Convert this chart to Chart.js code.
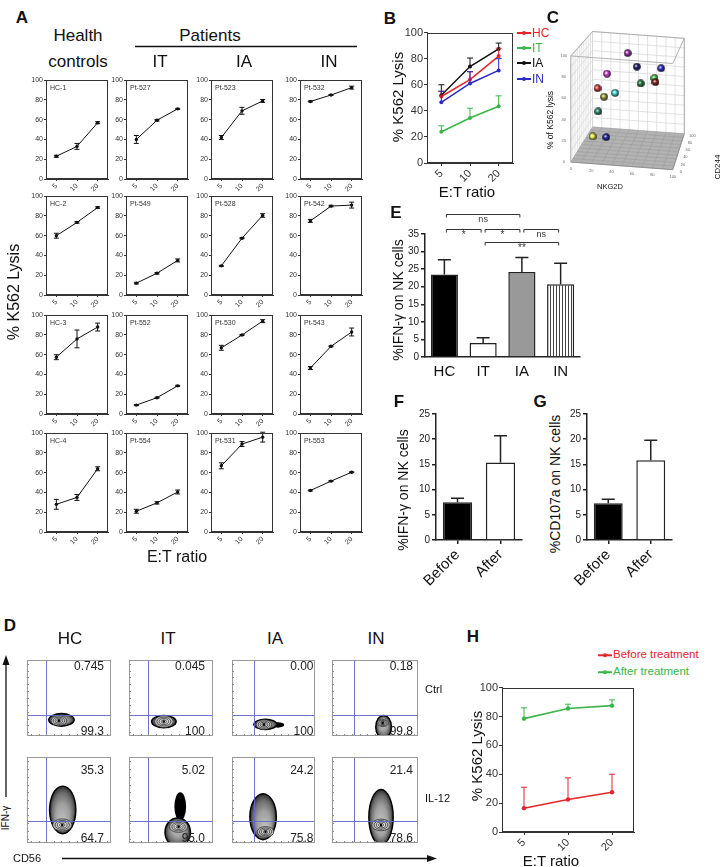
<!DOCTYPE html>
<html>
<head>
<meta charset="utf-8">
<script src="https://cdn.jsdelivr.net/npm/chart.js@4.4.1/dist/chart.umd.min.js"></script>
<style>
  body { margin: 0; background: #fff; }
  #page { position: relative; width: 724px; height: 867px; overflow: hidden;
          font-family: "Liberation Sans", Arial, sans-serif; color: #111; }
  #page canvas { position: absolute; }
  .t { position: absolute; white-space: nowrap; line-height: 1; transform: translate(-50%, -50%); }
  .lg { position: absolute; display: flex; align-items: center; white-space: nowrap; line-height: 1; transform: translateY(-50%); }
  .lg .ln { position: relative; height: 1.5px; margin-right: 1px; }
  .lg .ln i { position: absolute; left: 50%; top: 50%; width: 4px; height: 4px; border-radius: 50%;
              transform: translate(-50%, -50%); background: inherit; }
  svg { position: absolute; left: 0; top: 0; }
</style>
</head>
<body>
<div id="page"></div>
<script>
// ---------- data ----------

// A: % K562 lysis per donor at E:T 5, 10, 20 (mean, sem)
const etRatios = ["5", "10", "20"];
const donorIds = ["HC-1", "Pt-527", "Pt-523", "Pt-532",
                  "HC-2", "Pt-549", "Pt-528", "Pt-542",
                  "HC-3", "Pt-552", "Pt-530", "Pt-543",
                  "HC-4", "Pt-554", "Pt-531", "Pt-553"];
const donorLysis = [
  [23, 33, 57], [40, 59.5, 71], [42, 69, 79], [78.5, 85, 92.5],
  [60, 73.5, 88.5], [12, 22, 35], [29.5, 57.5, 80.5], [75, 90, 91],
  [57.5, 76, 88], [9, 16.5, 28.5], [67, 80, 94], [46.5, 68.5, 83],
  [28, 35, 64], [21, 29.5, 40.5], [67, 89, 96], [42, 51.5, 60.5]
];
const donorSem = [
  [1, 3, 1], [4, 0.8, 0.5], [2, 3.5, 1.5], [0.5, 0.5, 1.5],
  [2.5, 0.8, 0.8], [0.8, 0.8, 1.5], [0.5, 0.5, 1.8], [1.5, 0.8, 3],
  [2.5, 9, 4], [0.5, 0.5, 0.5], [2.5, 0.5, 1.5], [1.5, 0.5, 4],
  [5, 3, 2], [2, 1.2, 2], [3, 2.5, 5], [0.5, 0.5, 0.5]
];

// B: group means
const groupNames = ["HC", "IT", "IA", "IN"];
const groupLysis = [[51, 64, 82], [24, 34.5, 43.5], [52, 74, 87.5], [46.5, 61, 71]];
const groupSem = [[4, 6, 6], [4.5, 7.5, 8], [8, 6.5, 4.5], [8.5, 9, 9]];

// C: each patient as (NKG2D, CD244, % lysis)
const nkg2dVals = [47.5, 57, 82.1, 26.1, 75.2, 60.9, 76.2, 16.4, 34.6, 23.2, 17.1, 11.4, 25.4];
const cd244Vals = [50, 50, 50, 50, 50, 50, 50, 50, 50, 50, 50, 50, 50];
const lysisVals = [94.1, 81.3, 81.5, 72.2, 71.3, 64.9, 67.3, 57, 53.7, 49.1, 34, 8.8, 9.1];
const pointColors = ["#9b2fae", "#1d1d70", "#2a2ad0", "#e040e8", "#40d040", "#1f7a3a", "#8b1a1a",
                     "#e03030", "#40e0e0", "#a0a030", "#1f8a6a", "#f0f040", "#2020b0"];

// E: % IFN-γ+ NK cells per group
const ifnGroup = [23.5, 4, 24.2, 20.7];
const ifnGroupSem = [4.2, 1.5, 4.1, 6];
const sigPairs = [[0, 2], [0, 1], [1, 2], [2, 3], [1, 3]];
const sigLabels = ["ns", "*", "*", "ns", "**"];
const sigLevels = [40.7, 36.4, 36.4, 36.4, 32.7];

// F, G: before / after treatment
const treatLabels = ["Before", "After"];
const ifnTreat = [7.5, 15.4];
const ifnTreatSem = [0.8, 5.3];
const cd107Treat = [7.3, 15.8];
const cd107TreatSem = [0.8, 4.0];

// H: lysis before / after treatment
const beforeLysis = [16.5, 22.5, 27.5];
const beforeSem = [14.5, 15, 12.5];
const afterLysis = [78.5, 85.5, 87.5];
const afterSem = [7.5, 3, 4];

// D: flow plots (CD56 vs IFN-γ, axis in % of scale)
const flowGroups = ["HC", "IT", "IA", "IN"];
const ctrlUpper = ["0.745", "0.045", "0.00", "0.18"];
const ctrlLower = ["99.3", "100", "100", "99.8"];
const il12Upper = ["35.3", "5.02", "24.2", "21.4"];
const il12Lower = ["64.7", "95.0", "75.8", "78.6"];
const gateCD56 = [23, 23, 26, 26];
const gateIFNg = [28, 26];
// NK population: [cd56 low, cd56 high, ifn low, ifn high, cd56 mode, ifn mode]
const ctrlPops = [[25, 57, 12, 30.5, 38, 20], [26, 57, 10, 28, 41.5, 19],
                  [25.5, 55, 7.7, 23, 38.5, 15], [50, 70, -4, 28, 59, 17]];
const il12Pops = [[26, 59, 10, 67, 42, 21], [42, 74, -5, 30, 59, 19],
                  [20.6, 54.3, 3, 58, 40.4, 13], [42, 72, -3, 63, 57, 21]];
// sparse events outside the main contour: [cd56 low, cd56 high, ifn low, ifn high]
const ctrlStreak = [null, null, [48, 63, 11, 18], null];
const il12Streak = [null, [54, 68, 26, 59], null, null];

// ---------- helpers ----------
const page = document.getElementById("page");
const FONT = '"Liberation Sans", Arial, sans-serif';
Chart.defaults.font.family = FONT;
Chart.defaults.color = "#222";
Chart.defaults.animation = false;
Chart.defaults.responsive = false;
Chart.defaults.devicePixelRatio = 1;
Chart.defaults.plugins.legend.display = false;
Chart.defaults.plugins.tooltip.enabled = false;

function T(str, x, y, size, o = {}) {
  const d = document.createElement("div");
  d.className = "t";
  d.textContent = str;
  d.style.left = x + "px";
  d.style.top = y + "px";
  d.style.fontSize = size + "px";
  if (o.bold) d.style.fontWeight = "bold";
  if (o.color) d.style.color = o.color;
  if (o.rot) d.style.transform = "translate(-50%,-50%) rotate(" + o.rot + "deg)";
  if (o.left) d.style.transform = "translate(0,-50%)";
  page.appendChild(d);
}

function legendItem(x, y, color, text, size, lineW) {
  const d = document.createElement("div");
  d.className = "lg";
  d.style.left = x + "px";
  d.style.top = y + "px";
  d.style.fontSize = size + "px";
  d.style.color = color;
  const ln = document.createElement("span");
  ln.className = "ln";
  ln.style.width = lineW + "px";
  ln.style.background = color;
  ln.appendChild(document.createElement("i"));
  d.appendChild(ln);
  d.appendChild(document.createTextNode(text));
  page.appendChild(d);
}

// box = [left, top, right, bottom] of the plot area on the page, m = room around it
function mount(box, m) {
  const c = document.createElement("canvas");
  const w = box[2] - box[0] + m.l + m.r, h = box[3] - box[1] + m.t + m.b;
  c.width = w; c.height = h;
  c.style.left = (box[0] - m.l) + "px";
  c.style.top = (box[1] - m.t) + "px";
  c.style.width = w + "px";
  c.style.height = h + "px";
  page.appendChild(c);
  return c;
}

const errorBars = {
  id: "errorBars",
  afterDatasetsDraw(chart) {
    const ctx = chart.ctx, ys = chart.scales.y;
    chart.data.datasets.forEach((ds, i) => {
      if (!ds.errors) return;
      const meta = chart.getDatasetMeta(i);
      ctx.save();
      ctx.strokeStyle = ds.errorColor || ds.borderColor;
      ctx.lineWidth = ds.errorWidth || 1;
      meta.data.forEach((el, j) => {
        const v = ds.data[j], e = ds.errors[j], cap = ds.errorCap || 2;
        const top = ys.getPixelForValue(v + e);
        const bot = ds.upOnly ? ys.getPixelForValue(v) : ys.getPixelForValue(v - e);
        ctx.beginPath();
        ctx.moveTo(el.x, top); ctx.lineTo(el.x, bot);
        ctx.moveTo(el.x - cap, top); ctx.lineTo(el.x + cap, top);
        if (!ds.upOnly) { ctx.moveTo(el.x - cap, bot); ctx.lineTo(el.x + cap, bot); }
        ctx.stroke();
      });
      ctx.restore();
    });
  }
};

const frameBox = {
  id: "frameBox",
  afterDraw(chart) {
    const { ctx, chartArea: a } = chart;
    ctx.save();
    ctx.strokeStyle = "#333";
    ctx.lineWidth = 1;
    ctx.strokeRect(Math.round(a.left) + 0.5, Math.round(a.top) + 0.5,
                   Math.round(a.width) - 1, Math.round(a.height) - 1);
    ctx.restore();
  }
};

const cornerName = {
  id: "cornerName",
  afterDraw(chart) {
    const { ctx, chartArea: a } = chart;
    ctx.save();
    ctx.font = "7px " + FONT;
    ctx.fillStyle = "#333";
    ctx.textBaseline = "top";
    ctx.fillText(chart.data.datasets[0].label, a.left + 4, a.top + 4);
    ctx.restore();
  }
};

function boxedScales(m, tickSize, tickLen) {
  return {
    x: {
      offset: true,
      grid: { drawOnChartArea: false, offset: false, tickLength: tickLen, color: "#333" },
      border: { color: "#333" },
      ticks: { font: { size: tickSize }, color: "#333", minRotation: 45, maxRotation: 45, padding: 1, autoSkip: false },
      afterFit: s => { s.height = m.b; }
    },
    y: {
      min: 0, max: 100,
      grid: { drawOnChartArea: false, tickLength: tickLen, color: "#333" },
      border: { color: "#333" },
      ticks: { stepSize: 20, font: { size: tickSize }, color: "#333", padding: 1 },
      afterFit: s => { s.width = m.l; }
    }
  };
}

// ---------- panel A ----------
const colX = [46, 126, 211, 300], rowY = [78, 194, 313, 431];
donorIds.forEach((id, i) => {
  const c = colX[i % 4], r = rowY[Math.floor(i / 4)];
  const m = { l: 18, t: 3, r: 3, b: 16 };
  new Chart(mount([c, r, c + 63, r + 101], m), {
    type: "line",
    data: {
      labels: etRatios,
      datasets: [{
        label: id, data: donorLysis[i], errors: donorSem[i], errorCap: 2.5,
        borderColor: "#111", backgroundColor: "#111", borderWidth: 1,
        pointRadius: 1.7, pointBorderWidth: 0
      }]
    },
    options: {
      layout: { padding: { top: m.t, right: m.r, left: 0, bottom: 0 } },
      scales: boxedScales(m, 7, 2)
    },
    plugins: [errorBars, frameBox, cornerName]
  });
});

// ---------- panel B ----------
const groupColors = ["#e3262c", "#3bb54a", "#111111", "#2b2bbf"];
{
  const m = { l: 26, t: 6, r: 4, b: 22 };
  new Chart(mount([427, 31, 513, 163], m), {
    type: "line",
    data: {
      labels: etRatios,
      datasets: groupNames.map((g, i) => ({
        label: g, data: groupLysis[i], errors: groupSem[i], upOnly: true, errorCap: 3,
        borderColor: groupColors[i], backgroundColor: groupColors[i], borderWidth: 1.5,
        pointRadius: 2, pointBorderWidth: 0
      }))
    },
    options: {
      layout: { padding: { top: m.t, right: m.r, left: 0, bottom: 0 } },
      scales: boxedScales(m, 11, 3)
    },
    plugins: [errorBars, frameBox]
  });
}

// ---------- panel C ----------
// simple camera for the 3D box: returns pixel offsets (right, up) from the front floor corner
function proj(nk, cd, ly) {
  const d = cd / 100, s = 1 - 0.1 * d;
  return { x: 23 * d + s * 1.08 * nk, y: 37 * d + s * (1.12 * ly - 0.08 * nk) };
}
function sphere(color) {
  const c = document.createElement("canvas");
  c.width = 8; c.height = 8;
  const g = c.getContext("2d");
  const gr = g.createRadialGradient(3, 3, 0.3, 4, 4, 4);
  gr.addColorStop(0, "#ffffff");
  gr.addColorStop(0.35, color);
  gr.addColorStop(1, "#111");
  g.fillStyle = gr;
  g.beginPath(); g.arc(4, 4, 3.8, 0, Math.PI * 2); g.fill();
  return c;
}
const cube = {
  id: "cube",
  beforeDatasetsDraw(chart) {
    const { ctx, scales: { x, y } } = chart;
    const P = (a, b, c) => { const p = proj(a, b, c); return [x.getPixelForValue(p.x), y.getPixelForValue(p.y)]; };
    const seg = (p, q, col, w) => {
      ctx.strokeStyle = col; ctx.lineWidth = w;
      ctx.beginPath(); ctx.moveTo(p[0], p[1]); ctx.lineTo(q[0], q[1]); ctx.stroke();
    };
    ctx.save();
    for (let v = 0; v <= 100; v += 10) {
      seg(P(0, v, 0), P(0, v, 100), "#d6d6d6", 0.7);
      seg(P(0, 0, v), P(0, 100, v), "#d6d6d6", 0.7);
      seg(P(v, 100, 0), P(v, 100, 100), "#d6d6d6", 0.7);
      seg(P(0, 100, v), P(100, 100, v), "#d6d6d6", 0.7);
    }
    ctx.beginPath();
    [P(0, 0, 0), P(100, 0, 0), P(100, 100, 0), P(0, 100, 0)].forEach((p, i) =>
      i ? ctx.lineTo(p[0], p[1]) : ctx.moveTo(p[0], p[1]));
    ctx.closePath();
    ctx.fillStyle = "#b2b2b2";
    ctx.fill();
    for (let v = 0; v <= 100; v += 10) {
      seg(P(v, 0, 0), P(v, 100, 0), "#9c9c9c", 0.6);
      seg(P(0, v, 0), P(100, v, 0), "#9c9c9c", 0.6);
    }
    const e = "#a0a0a0";
    seg(P(0, 0, 0), P(0, 0, 100), e, 0.8);
    seg(P(0, 0, 100), P(100, 0, 100), e, 0.8);
    seg(P(0, 0, 100), P(0, 100, 100), e, 0.8);
    seg(P(0, 100, 100), P(100, 100, 100), e, 0.8);
    seg(P(100, 0, 100), P(100, 100, 100), e, 0.8);
    seg(P(100, 100, 0), P(100, 100, 100), e, 0.8);
    seg(P(0, 0, 0), P(100, 0, 0), "#888", 0.8);
    seg(P(100, 0, 0), P(100, 100, 0), "#888", 0.8);
    // tiny tick labels
    ctx.fillStyle = "#666";
    ctx.font = "4px " + FONT;
    ctx.textAlign = "center";
    ctx.textBaseline = "middle";
    for (let v = 0; v <= 100; v += 20) {
      let p = P(0, 0, v); ctx.fillText(String(v), p[0] - 7, p[1]);
      p = P(v, 0, 0); ctx.fillText(String(v), p[0], p[1] + 7);
      p = P(100, v, 0); ctx.fillText(String(v), p[0] + 8, p[1] + 2);
    }
    ctx.restore();
  }
};
{
  const left = 546, top = 14, w = 178, h = 190, ox = 567, oy = 165;
  const c = mount([left, top, left + w, top + h], { l: 0, t: 0, r: 0, b: 0 });
  new Chart(c, {
    type: "scatter",
    data: {
      datasets: [{
        data: nkg2dVals.map((v, i) => proj(v, cd244Vals[i], lysisVals[i])),
        pointStyle: pointColors.map(sphere),
        pointRadius: 4
      }]
    },
    options: {
      layout: { padding: 0 },
      scales: {
        x: { type: "linear", display: false, min: left - ox, max: left + w - ox },
        y: { type: "linear", display: false, min: oy - (top + h), max: oy - top }
      }
    },
    plugins: [cube]
  });
}

// ---------- panel E ----------
function stripes() {
  const c = document.createElement("canvas");
  c.width = 3; c.height = 3;
  const g = c.getContext("2d");
  g.fillStyle = "#fff"; g.fillRect(0, 0, 3, 3);
  g.fillStyle = "#444"; g.fillRect(2, 0, 1, 3);
  return g.createPattern(c, "repeat");
}
const brackets = {
  id: "brackets",
  afterDraw(chart) {
    const { ctx, scales: { x, y } } = chart;
    ctx.save();
    ctx.strokeStyle = "#333"; ctx.fillStyle = "#333"; ctx.lineWidth = 1;
    ctx.textAlign = "center"; ctx.textBaseline = "top";
    sigPairs.forEach((p, i) => {
      const x0 = x.getPixelForValue(p[0]) + 2, x1 = x.getPixelForValue(p[1]) - 2;
      const yy = Math.round(y.getPixelForValue(sigLevels[i])) + 0.5;
      ctx.beginPath();
      ctx.moveTo(x0, yy + 3); ctx.lineTo(x0, yy); ctx.lineTo(x1, yy); ctx.lineTo(x1, yy + 3);
      ctx.stroke();
      ctx.font = (sigLabels[i] === "ns" ? "9px " : "10px ") + FONT;
      ctx.fillText(sigLabels[i], (x0 + x1) / 2, yy + 1);
    });
    ctx.restore();
  }
};
function barScales(m, yMax, xTickSize, rotate, xTicks) {
  return {
    x: {
      grid: { display: xTicks, drawOnChartArea: false, offset: false, tickLength: 4, color: "#222", lineWidth: 1.5 },
      border: { color: "#222", width: 1.5 },
      ticks: { font: { size: xTickSize }, color: "#111", padding: 2,
               minRotation: rotate, maxRotation: rotate, autoSkip: false },
      afterFit: s => { s.height = m.b; }
    },
    y: {
      min: 0, max: yMax,
      grid: { drawOnChartArea: false, tickLength: 4, color: "#222", lineWidth: 1.5 },
      border: { color: "#222", width: 1.5 },
      ticks: { stepSize: 5, font: { size: 10 }, color: "#222", padding: 2 },
      afterFit: s => { s.width = m.l; }
    }
  };
}
{
  const m = { l: 24, t: 28, r: 4, b: 24 };
  new Chart(mount([425, 234, 580, 357], m), {
    type: "bar",
    data: {
      labels: groupNames,
      datasets: [{
        data: ifnGroup, errors: ifnGroupSem, upOnly: true, errorCap: 6.5, errorWidth: 1.5, errorColor: "#222",
        backgroundColor: ["#000", "#fff", "#999", stripes()],
        borderColor: "#222", borderWidth: 1.5,
        barPercentage: 0.7, categoryPercentage: 1
      }]
    },
    options: {
      layout: { padding: { top: m.t, right: m.r, left: 0, bottom: 0 } },
      scales: barScales(m, 35, 15, 0, false)
    },
    plugins: [errorBars, brackets]
  });
}

// ---------- panels F, G ----------
function treatChart(box, vals, sems) {
  const m = { l: 24, t: 4, r: 4, b: 46 };
  new Chart(mount(box, m), {
    type: "bar",
    data: {
      labels: treatLabels,
      datasets: [{
        data: vals, errors: sems, upOnly: true, errorCap: 6.5, errorWidth: 1.5, errorColor: "#222",
        backgroundColor: ["#000", "#fff"], borderColor: "#222", borderWidth: 1.5,
        barPercentage: 0.68, categoryPercentage: 1
      }]
    },
    options: {
      layout: { padding: { top: m.t, right: m.r, left: 0, bottom: 0 } },
      scales: barScales(m, 25, 15, 45, true)
    },
    plugins: [errorBars]
  });
}
treatChart([436, 410, 522, 540], ifnTreat, ifnTreatSem);
treatChart([587, 410, 672, 540], cd107Treat, cd107TreatSem);

// ---------- panel H ----------
{
  const m = { l: 26, t: 4, r: 4, b: 26 };
  const col = ["#e3262c", "#3bb54a"];
  new Chart(mount([502, 684, 634, 832], m), {
    type: "line",
    data: {
      labels: etRatios,
      datasets: [
        { label: "Before treatment", data: beforeLysis, errors: beforeSem, upOnly: true, errorCap: 3,
          borderColor: col[0], backgroundColor: col[0], borderWidth: 1.6, pointRadius: 2.2, pointBorderWidth: 0 },
        { label: "After treatment", data: afterLysis, errors: afterSem, upOnly: true, errorCap: 3,
          borderColor: col[1], backgroundColor: col[1], borderWidth: 1.6, pointRadius: 2.2, pointBorderWidth: 0 }
      ]
    },
    options: {
      layout: { padding: { top: m.t, right: m.r, left: 0, bottom: 0 } },
      scales: boxedScales(m, 11, 3)
    },
    plugins: [errorBars, frameBox]
  });
  legendItem(598, 655, col[0], "Before treatment", 11.5, 14);
  legendItem(598, 672, col[1], "After treatment", 11.5, 14);
}

// ---------- panel D ----------
// contour plot of one population: black outline, shaded band, rings around the mode
function contour(ctx, xs, ys, p) {
  const X0 = xs.getPixelForValue(p[0]), X1 = xs.getPixelForValue(p[1]);
  const Y0 = ys.getPixelForValue(p[3]), Y1 = ys.getPixelForValue(p[2]);
  const CX = xs.getPixelForValue(p[4]), CY = ys.getPixelForValue(p[5]);
  const ex = (X0 + X1) / 2, ey = (Y0 + Y1) / 2, rx = (X1 - X0) / 2, ry = (Y1 - Y0) / 2;
  // outline
  ctx.beginPath();
  ctx.ellipse(ex, ey, rx, ry, 0, 0, Math.PI * 2);
  ctx.fillStyle = "#000";
  ctx.fill();
  // shaded band (elliptical gradient, light at the mode)
  ctx.save();
  ctx.translate(ex, ey);
  ctx.scale(Math.max(rx - 1.4, 0.5), Math.max(ry - 1.4, 0.5));
  const gx = (CX - ex) / Math.max(rx - 1.4, 0.5), gy = (CY - ey) / Math.max(ry - 1.4, 0.5);
  const gr = ctx.createRadialGradient(gx, gy, 0, 0, 0, 1);
  gr.addColorStop(0, "#c8c8c8");
  gr.addColorStop(0.55, "#a0a0a0");
  gr.addColorStop(0.85, "#6a6a6a");
  gr.addColorStop(1, "#333");
  ctx.beginPath();
  ctx.arc(0, 0, 1, 0, Math.PI * 2);
  ctx.fillStyle = gr;
  ctx.fill();
  ctx.restore();
  // rings around the mode
  const hw = Math.min(CX - X0, X1 - CX) * 0.72;
  const hh = Math.min(CY - Y0, Y1 - CY, hw * 0.7) * 0.9;
  const f = [1, 0.74, 0.5, 0.28];
  const fills = ["#b8b8b8", "#cdcdcd", "#dedede", "#ececec"];
  f.forEach((s, k) => {
    ctx.beginPath();
    ctx.ellipse(CX, CY, Math.max(hw * s, 0.8), Math.max(hh * s, 0.6), 0, 0, Math.PI * 2);
    ctx.fillStyle = fills[k];
    ctx.fill();
    ctx.strokeStyle = "#222";
    ctx.lineWidth = 0.7;
    ctx.stroke();
  });
}
const flowColX = [[24, 114], [126, 216], [229, 318], [329, 421]];
const flowRowY = [[657, 739], [754, 846]];
const numInset = [7, 8, 1.5, 5];
const numTop = [1, 8];
function flowPlot(col, row) {
  const pop = row === 0 ? ctrlPops[col] : il12Pops[col];
  const streak = row === 0 ? ctrlStreak[col] : il12Streak[col];
  const upper = row === 0 ? ctrlUpper[col] : il12Upper[col];
  const lower = row === 0 ? ctrlLower[col] : il12Lower[col];
  const gx = gateCD56[col], gy = gateIFNg[row];
  const plug = {
    id: "flow",
    beforeDatasetsDraw(chart) {
      const { ctx, chartArea: a, scales: { x, y } } = chart;
      ctx.save();
      ctx.beginPath(); ctx.rect(a.left, a.top, a.width, a.height); ctx.clip();
      if (streak) {
        ctx.beginPath();
        const sx0 = x.getPixelForValue(streak[0]), sx1 = x.getPixelForValue(streak[1]);
        const sy0 = y.getPixelForValue(streak[3]), sy1 = y.getPixelForValue(streak[2]);
        ctx.ellipse((sx0 + sx1) / 2, (sy0 + sy1) / 2, (sx1 - sx0) / 2, (sy1 - sy0) / 2, 0, 0, Math.PI * 2);
        ctx.fillStyle = "#000"; ctx.fill();
      }
      contour(ctx, x, y, pop);
      ctx.restore();
      ctx.save();
      ctx.strokeStyle = "#5b66c9"; ctx.lineWidth = 0.9;
      const px = Math.round(x.getPixelForValue(gx)) + 0.5, py = Math.round(y.getPixelForValue(gy)) + 0.5;
      ctx.beginPath();
      ctx.moveTo(px, a.top); ctx.lineTo(px, a.bottom);
      ctx.moveTo(a.left, py); ctx.lineTo(a.right, py);
      ctx.stroke();
      ctx.strokeStyle = "#999"; ctx.lineWidth = 1;
      ctx.strokeRect(a.left + 0.5, a.top + 0.5, a.width - 1, a.height - 1);
      ctx.strokeStyle = "#888";
      ctx.beginPath();
      for (let v = 5; v < 100; v += 9) {
        const tx = Math.round(x.getPixelForValue(v)) + 0.5, ty = Math.round(y.getPixelForValue(v)) + 0.5;
        ctx.moveTo(tx, a.bottom); ctx.lineTo(tx, a.bottom - 2);
        ctx.moveTo(a.left, ty); ctx.lineTo(a.left + 2, ty);
      }
      ctx.stroke();
      ctx.fillStyle = "#222";
      ctx.font = "12px " + FONT;
      ctx.textAlign = "right";
      ctx.textBaseline = "top";
      ctx.fillText(upper, a.right - numInset[col], a.top + numTop[row]);
      ctx.textBaseline = "alphabetic";
      ctx.fillText(lower, a.right - numInset[col], a.bottom - 1);
      ctx.restore();
    }
  };
  const b = [flowColX[col][0], flowRowY[row][0], flowColX[col][1], flowRowY[row][1]];
  new Chart(mount(b, { l: 1, t: 1, r: 1, b: 1 }), {
    type: "scatter",
    data: { datasets: [{ data: [{ x: pop[4], y: pop[5] }], pointRadius: 1.3, backgroundColor: "#000", borderWidth: 0 }] },
    options: {
      layout: { padding: 1 },
      scales: {
        x: { type: "linear", min: 0, max: 100, display: false },
        y: { type: "linear", min: 0, max: 100, display: false }
      }
    },
    plugins: [plug]
  });
}
for (let r = 0; r < 2; r++) for (let c = 0; c < 4; c++) flowPlot(c, r);

// ---------- text and decorations ----------
T("A", 22, 17, 17, { bold: true });
T("Health", 78, 35, 17);
T("controls", 78, 61, 17);
T("Patients", 210, 35, 17);
T("IT", 160, 61, 17);
T("IA", 244, 61, 17);
T("IN", 329, 61, 17);
T("% K562 Lysis", 14, 292, 16, { rot: -90 });
T("E:T ratio", 177, 557, 16);

T("B", 390, 18, 17, { bold: true });
T("% K562 Lysis", 397, 97, 15, { rot: -90 });
T("E:T ratio", 467, 191, 15);
groupNames.forEach((g, i) => legendItem(517, [33, 48, 63, 79][i], groupColors[i], g, 12, 14));

T("C", 553, 17, 17, { bold: true });
T("% of K562 lysis", 550, 120, 8.5, { rot: -90 });
T("NKG2D", 610, 187, 7.5);
T("CD244", 718, 167, 8, { rot: -90 });

T("E", 396, 212, 17, { bold: true });
T("%IFN-γ on NK cells", 398, 300, 14, { rot: -90 });
T("F", 399, 401, 17, { bold: true });
T("%IFN-γ on NK cells", 403, 490, 14, { rot: -90 });
T("G", 540, 401, 17, { bold: true });
T("%CD107a on NK cells", 555, 484, 14, { rot: -90 });

T("H", 473, 636, 17, { bold: true });
T("% K562 Lysis", 476, 756, 15, { rot: -90 });
T("E:T ratio", 551, 860, 15);

T("D", 10, 625, 17, { bold: true });
flowGroups.forEach((g, i) => T(g, [70, 168, 275, 376][i], 638, 17));
T("Ctrl", 425, 689, 11, { left: true });
T("IL-12", 425, 798, 11, { left: true });
T("IFN-γ", 6, 818, 10, { rot: -90 });
T("CD56", 27, 858, 11);

const svg = document.createElementNS("http://www.w3.org/2000/svg", "svg");
svg.setAttribute("width", "724");
svg.setAttribute("height", "867");
svg.innerHTML =
  '<line x1="135" y1="46.5" x2="357" y2="46.5" stroke="#111" stroke-width="1.3"/>' +
  '<line x1="6" y1="797" x2="6" y2="664" stroke="#111" stroke-width="1.3"/>' +
  '<polygon points="6,655 2.5,665 9.5,665" fill="#111"/>' +
  '<line x1="62" y1="858.5" x2="428" y2="858.5" stroke="#111" stroke-width="1.3"/>' +
  '<polygon points="437,858.5 427,855 427,862" fill="#111"/>';
page.appendChild(svg);
</script>
</body>
</html>
